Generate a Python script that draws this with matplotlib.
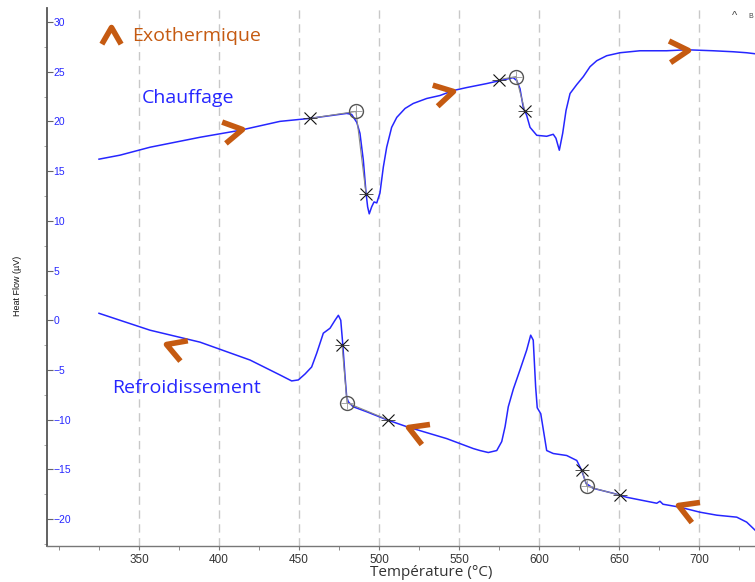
import numpy as np
import matplotlib
matplotlib.use("Agg")
import matplotlib.pyplot as plt
from matplotlib.path import Path
from matplotlib.markers import MarkerStyle
from matplotlib.transforms import Affine2D
from matplotlib import font_manager

# ---------------- data ----------------
heat_T = [325, 338.1, 356.9, 388.1, 413.1, 438.1, 456.9, 479.8, 482.9, 486.1, 488.1, 490.2,
          491.9, 492.9, 493.9, 495.4, 496.9, 498.6, 500.6, 502.7, 504.8, 507.9, 511.1, 516.3,
          521.4, 529.8, 538.1, 546.4, 554.8, 567.3, 575.6, 583.9, 586.1, 588.1, 590.2, 592.3,
          594.4, 598.6, 604.8, 608.9, 610.6, 612.7, 614.8, 616.9, 619.4, 623.6, 627.7, 631.9,
          636.1, 642.3, 650.6, 663.1, 679.8, 692.3, 708.9, 721.4, 729.8, 735]
heat_Q = [16.2, 16.6, 17.4, 18.4, 19.1, 20.0, 20.3, 20.8, 20.7, 19.9, 18.8, 16.1,
          12.8, 11.4, 10.7, 11.4, 11.9, 11.8, 12.8, 15.4, 17.4, 19.4, 20.4, 21.3,
          21.8, 22.3, 22.6, 23.1, 23.4, 23.8, 24.1, 24.4, 24.1, 23.3, 21.4, 20.6,
          19.4, 18.6, 18.5, 18.7, 18.3, 17.1, 18.8, 21.1, 22.8, 23.7, 24.5, 25.5,
          26.1, 26.6, 26.9, 27.1, 27.1, 27.2, 27.1, 27.0, 26.9, 26.8]

cool_T = [325, 338.1, 356.9, 388.1, 419.4, 438.1, 445.4, 449.6, 453.8, 457.9, 461.1, 465.2,
          469.4, 472.5, 474.6, 476.1, 477.3, 478.8, 479.8, 480.8, 483.9, 492.3, 504.8, 517.3,
          527.7, 542.3, 558.9, 563.1, 568.3, 573.6, 576.7, 578.8, 580.8, 584.0, 588.1, 592.3,
          594.8, 596.4, 597.9, 598.9, 601.1, 603.1, 604.8, 608.9, 617.3, 623.6, 626.7, 629.4,
          633.9, 646.4, 654.8, 673.6, 675.6, 677.5, 688.1, 700.6, 711.1, 723.6, 729.8, 735]
cool_Q = [0.7, 0.0, -1.0, -2.2, -4.0, -5.5, -6.1, -6.0, -5.4, -4.7, -3.3, -1.3,
          -0.8, 0.0, 0.5, 0.0, -2.3, -5.7, -7.7, -8.2, -8.7, -9.2, -10.0, -10.7,
          -11.2, -11.9, -12.9, -13.1, -13.3, -13.1, -12.2, -10.7, -8.7, -6.9, -5.0, -3.0,
          -1.5, -2.0, -6.7, -8.8, -9.4, -11.4, -13.1, -13.4, -13.6, -14.1, -15.1, -16.4,
          -16.9, -17.4, -17.8, -18.4, -18.2, -18.5, -18.8, -19.3, -19.6, -19.8, -20.3, -21.1]

# analysis points (onset cross, circle, end cross)
heat_marks_T = [[456.9, 485.6, 491.9], [575.0, 585.6, 591.3]]
heat_marks_Q = [[20.3, 21.0, 12.7], [24.2, 24.5, 21.0]]
cool_marks_T = [[476.9, 480.0, 505.6], [626.9, 630.0, 650.6]]
cool_marks_Q = [[-2.5, -8.3, -10.0], [-15.1, -16.7, -17.6]]

# direction chevrons (tip position, pointing angle in degrees)
arrow_T = [414.4, 546.3, 693.1, 366.9, 518.3, 687.1]
arrow_Q = [19.2, 23.1, 27.2, -2.4, -10.7, -18.6]
arrow_ang = [10, 13, 4, 160, 158, 158]

xticks = [350, 400, 450, 500, 550, 600, 650, 700]
yticks = [-20, -15, -10, -5, 0, 5, 10, 15, 20, 25, 30]

# ---------------- style ----------------
names = {f.name for f in font_manager.fontManager.ttflist}
narrow = "Liberation Sans Narrow" if "Liberation Sans Narrow" in names else "Liberation Sans"
ui = "Open Sans"

BLUE = "#2626ff"
ORANGE = "#c55a11"

fig = plt.figure(figsize=(7.55, 5.82), dpi=100)
ax = fig.add_axes([47 / 755, 36 / 582, 708 / 755, 538 / 582])
ax.set_xlim(292.5, 735)
ax.set_ylim(-22.7, 31.4)

for s in ["top", "right"]:
    ax.spines[s].set_visible(False)
ax.spines["left"].set_color("#555555")
ax.spines["left"].set_linewidth(1.3)
ax.spines["bottom"].set_color("#777777")
ax.spines["bottom"].set_linewidth(1.0)

ax.set_xticks(xticks)
ax.set_xticks(np.arange(300, 736, 25), minor=True)
ax.set_yticks(yticks)
ax.set_yticks(np.arange(-22.5, 31, 2.5), minor=True)
ax.tick_params(axis="x", which="major", direction="out", length=3, color="#777777",
               labelsize=8.5, labelcolor="#333333", pad=3)
ax.tick_params(axis="x", which="minor", direction="out", length=3, color="#777777")
ax.tick_params(axis="y", which="major", direction="in", length=4, color="#666666",
               labelsize=7.5, labelcolor=BLUE, pad=-4.5)
ax.tick_params(axis="y", which="minor", direction="out", length=2, color="#999999")
for t in ax.get_xticklabels():
    t.set_fontfamily(narrow)
for t in ax.get_yticklabels():
    t.set_horizontalalignment("left")
    t.set_fontfamily("Liberation Sans")

ax.grid(axis="x", which="major", color="#c8c8c8", linestyle=(0, (6, 4)), linewidth=1.0)
ax.set_axisbelow(True)

# curves
ax.plot(heat_T, heat_Q, color=BLUE, lw=1.1, zorder=3)
ax.plot(cool_T, cool_Q, color=BLUE, lw=1.1, zorder=3)

# analysis marks
for Ts, Qs in zip(heat_marks_T + cool_marks_T, heat_marks_Q + cool_marks_Q):
    ax.plot(Ts, Qs, color="#8a8a8a", lw=0.8, zorder=4)
    ax.plot([Ts[0], Ts[2]], [Qs[0], Qs[2]], ls="none", marker="x", ms=8, mew=0.8,
            color="#111111", zorder=5)
    ax.plot([Ts[0], Ts[2]], [Qs[0], Qs[2]], ls="none", marker="_", ms=10, mew=0.6,
            color="#333333", zorder=5)
    ax.plot(Ts[1], Qs[1], ls="none", marker="o", ms=10, mfc="none", mec="#555555",
            mew=1.0, zorder=5)
    ax.plot(Ts[1], Qs[1], ls="none", marker="+", ms=9, mew=0.6, color="#999999", zorder=5)

# chevrons
chev = Path([(-0.866, 0.5), (0, 0), (-0.866, -0.5)],
            [Path.MOVETO, Path.LINETO, Path.LINETO])


def chevron(x, y, ang, ms=27):
    m = MarkerStyle(chev, fillstyle="none", transform=Affine2D().rotate_deg(ang),
                    joinstyle="miter", capstyle="butt")
    ax.plot([x], [y], ls="none", marker=m, ms=ms, mec=ORANGE, mew=4.0,
            zorder=6, clip_on=False)


for x, y, a in zip(arrow_T, arrow_Q, arrow_ang):
    chevron(x, y, a)

# legend-like text
chevron(332.5, 29.5, 90, ms=24)
ax.text(345.5, 28.6, "Exothermique", color=ORANGE, fontsize=14, family=ui,
        va="center", ha="left")
ax.text(351.5, 22.4, "Chauffage", color=BLUE, fontsize=14, family=ui,
        va="center", ha="left")
ax.text(333.0, -6.8, "Refroidissement", color=BLUE, fontsize=14, family=ui,
        va="center", ha="left")

fig.text(431 / 755, 1 - 573 / 582, "Température (°C)", ha="center", va="center",
         fontsize=11, family=ui, color="#333333")
fig.text(17 / 755, 1 - 286 / 582, "Heat Flow (µV)", ha="center", va="center",
         rotation=90, fontsize=6.5, family="Liberation Sans", color="#111111")
fig.text(735 / 755, 1 - 16 / 582, "^", ha="center", va="center", fontsize=8,
         family="Liberation Sans", color="#444444")
fig.text(748 / 755, 1 - 17 / 582, "B", ha="left", va="center", fontsize=5,
         family="Liberation Sans", color="#444444")

fig.savefig("out.png", dpi=100)
